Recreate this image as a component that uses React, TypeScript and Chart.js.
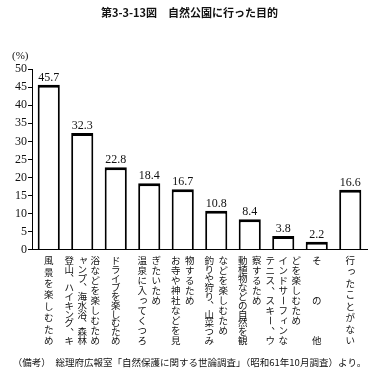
import React, { useEffect, useRef } from "react";
import { Chart, registerables } from "chart.js";

Chart.register(...registerables);

const titleText = "第3-3-13図　自然公園に行った目的";
const footerText = "（備考）　総理府広報室「自然保護に関する世論調査」（昭和61年10月調査）より。";
const unitLabel = "(%)";

// Each category label is written vertically; each inner string is one column (read left to right).
const categoryColumns: string[][] = [
  ["風景を楽しむため"],
  ["登山、ハイキング、キ", "ャンプ、海水浴、森林", "浴などを楽しむため"],
  ["ドライブを楽しむため"],
  ["温泉に入ってくつろ", "ぎたいため"],
  ["お寺や神社などを見", "物するため"],
  ["釣りや狩り、山菜つみ", "などを楽しむため"],
  ["動植物などの自然を観", "察するため"],
  ["テニス、スキー、ウ", "インドサーフィンな", "どを楽しむため"],
  ["その他"],
  ["行ったことがない"],
];
const categories = categoryColumns.map((c) => c.join(""));
const values = [45.7, 32.3, 22.8, 18.4, 16.7, 10.8, 8.4, 3.8, 2.2, 16.6];
const yMin = 0;
const yMax = 50;
const yStep = 5;

const SERIF = "'Liberation Serif', 'DejaVu Serif', serif";
const CJK = "'Noto Sans CJK JP', 'Noto Sans CJK SC', sans-serif";
const INK = "#111";

function drawVChar(ctx: CanvasRenderingContext2D, ch: string, x: number, y: number, fs: number) {
  if ("ー－−".includes(ch)) {
    ctx.save();
    ctx.translate(x, y);
    ctx.rotate(Math.PI / 2);
    ctx.fillText(ch, 0, 0);
    ctx.restore();
    return;
  }
  if ("、。".includes(ch)) {
    ctx.fillText(ch, x + fs * 0.6, y - fs * 0.6);
    return;
  }
  if ("ぁぃぅぇぉっゃゅょァィゥェォッャュョ".includes(ch)) {
    ctx.fillText(ch, x + fs * 0.12, y - fs * 0.12);
    return;
  }
  ctx.fillText(ch, x, y);
}

const labelsPlugin = {
  id: "verticalLabels",
  afterDraw(chart: any) {
    const ctx: CanvasRenderingContext2D = chart.ctx;
    const xScale = chart.scales.x;
    const area = chart.chartArea;
    const meta = chart.getDatasetMeta(0);
    ctx.save();
    ctx.fillStyle = INK;

    // value labels above bars
    ctx.font = `12px ${SERIF}`;
    ctx.textAlign = "center";
    ctx.textBaseline = "alphabetic";
    meta.data.forEach((bar: any, i: number) => {
      ctx.fillText(values[i].toFixed(1), bar.x, bar.y - 4);
    });

    // unit label
    ctx.font = `11px ${SERIF}`;
    ctx.textAlign = "left";
    ctx.textBaseline = "middle";
    ctx.fillText(unitLabel, 12, area.top - 13);

    // vertical category labels
    const fs = 9.5;
    ctx.font = `${fs}px ${CJK}`;
    ctx.textAlign = "center";
    ctx.textBaseline = "middle";
    categoryColumns.forEach((cols, i) => {
      const cx = xScale.getPixelForValue(i);
      const n = cols.length;
      cols.forEach((col, j) => {
        const offset = n === 1 ? 0 : n === 2 ? (j === 0 ? -7 : 7) : (j - 1) * 13;
        const x = cx + offset;
        const chars = Array.from(col);
        const justify = n === 1 || j < n - 1;
        const y0 = area.bottom + 11;
        const step = justify ? (chars.length > 1 ? 80 / (chars.length - 1) : 0) : 10;
        chars.forEach((ch, k) => drawVChar(ctx, ch, x, y0 + k * step, fs));
      });
    });
    ctx.restore();
  },
};

export default function App() {
  const canvasRef = useRef<HTMLCanvasElement | null>(null);

  useEffect(() => {
    if (!canvasRef.current) return;
    const chart = new Chart(canvasRef.current, {
      type: "bar",
      data: {
        labels: categories,
        datasets: [
          {
            data: values,
            backgroundColor: "#ffffff",
            borderColor: "#000000",
            borderWidth: { top: 3, left: 2, right: 2, bottom: 0 },
            borderSkipped: false,
            barPercentage: 0.66,
            categoryPercentage: 1,
          },
        ],
      },
      options: {
        responsive: false,
        animation: false,
        devicePixelRatio: 1,
        layout: { padding: { left: 12, right: 11, top: 0, bottom: 8 } },
        plugins: {
          legend: { display: false },
          tooltip: { enabled: false },
          title: {
            display: true,
            text: titleText,
            color: INK,
            font: { family: CJK, size: 11, weight: "bold" },
            padding: { top: 6, bottom: 50 },
          },
          subtitle: {
            display: true,
            position: "bottom",
            text: footerText,
            color: INK,
            font: { family: CJK, size: 9.5 },
            padding: { top: 0, bottom: 0 },
          },
        },
        scales: {
          x: {
            ticks: { display: false },
            grid: { display: false },
            border: { display: true, color: "#000", width: 1 },
            afterFit: (s: any) => {
              s.height = 107;
            },
          },
          y: {
            min: yMin,
            max: yMax,
            ticks: {
              stepSize: yStep,
              color: INK,
              padding: 1,
              font: { family: SERIF, size: 12 },
            },
            grid: {
              display: true,
              drawOnChartArea: false,
              drawTicks: true,
              tickLength: 4,
              color: "#000",
            },
            border: { display: true, color: "#000", width: 1 },
            afterFit: (s: any) => {
              s.width = 20;
            },
          },
        },
      },
      plugins: [labelsPlugin],
    } as any);
    return () => chart.destroy();
  }, []);

  return (
    <div style={{ position: "fixed", left: 0, top: 0, width: 378, height: 376, background: "#fff" }}>
      <canvas ref={canvasRef} width={378} height={376} />
    </div>
  );
}
